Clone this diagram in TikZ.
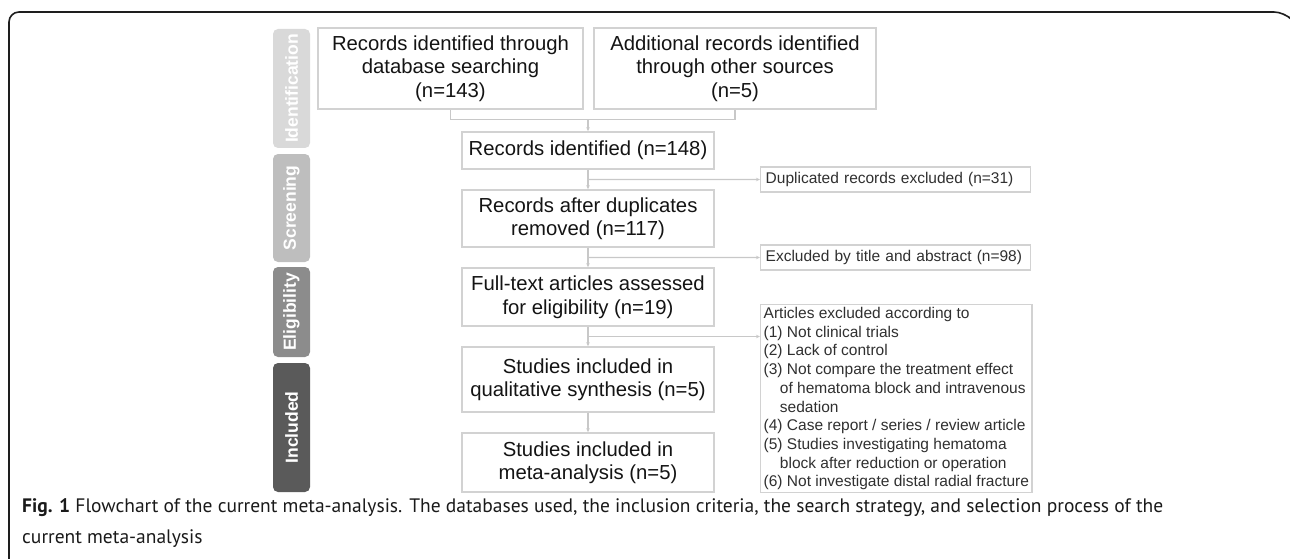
\documentclass[tikz,border=0pt]{standalone}
\usepackage{fontspec}
\setmainfont{Liberation Sans}
\newfontfamily\capfont{PT Sans}
\usetikzlibrary{arrows.meta,calc}
\definecolor{boxline}{HTML}{D2D2D2}
\definecolor{connc}{HTML}{C8C8C8}
\definecolor{tabA}{HTML}{D9D9D9}
\definecolor{tabB}{HTML}{BEBEBE}
\definecolor{tabC}{HTML}{8C8C8C}
\definecolor{tabD}{HTML}{5A5A5A}
\definecolor{framec}{HTML}{1E1E1E}
\definecolor{maintext}{HTML}{141414}
\definecolor{sidetext}{HTML}{303030}
\definecolor{captext}{HTML}{1A1A1A}
\begin{document}
\begin{tikzpicture}[x=1pt,y=-1pt,
  mainbox/.style={draw=boxline,line width=1.4pt,fill=white,inner sep=0pt,align=center,
    text=maintext,font=\fontsize{20.3}{23.5}\selectfont},
  sideframe/.style={draw=boxline,line width=1.4pt,fill=white,inner ysep=0pt,
    text=sidetext,font=\fontsize{15.5}{18.7}\selectfont},
  sidebox/.style={sideframe,inner xsep=5pt,align=left,text width=260pt,
    minimum height=25pt,anchor=west},
  listbox/.style={sideframe,inner xsep=3pt,align=left,minimum width=270pt,
    minimum height=188pt,anchor=north west},
  tabbox/.style={rounded corners=5pt,inner sep=0pt,text=white,minimum height=37pt,
    rotate=90,font=\fontsize{17.5}{20}\selectfont\bfseries},
  connector/.style={draw=connc,line width=1.3pt},
  arr/.style={-{Stealth[length=4pt,width=3.5pt]}}
]
\useasboundingbox (0,0) rectangle (1290,559);
% outer frame
\draw[framec,line width=1.6pt,rounded corners=10pt] (9,562) -- (9,12) -- (1284,12) -- (1289,17);
% phase tabs
\node[tabbox,fill=tabA,minimum width=119pt] (tid) at (291.5,88.5) {Identification};
\node[tabbox,fill=tabB,minimum width=108pt] (tsc) at (291.5,208) {Screening};
\node[tabbox,fill=tabC,minimum width=90pt] (tel) at (291.5,312) {Eligibility};
\node[tabbox,fill=tabD,minimum width=129pt] (tin) at (291.5,427.5) {Included};
% main boxes
\node[mainbox,minimum width=265pt,minimum height=81pt] (b1) at (450.5,68.5)
  {Records identified through\\database searching\\(n=143)};
\node[mainbox,minimum width=282pt,minimum height=81pt] (b2) at (735,68.5)
  {Additional records identified\\through other sources\\(n=5)};
\node[mainbox,minimum width=252pt,minimum height=37pt] (b3) at (588,150.5)
  {Records identified (n=148)};
\node[mainbox,minimum width=252pt,minimum height=57pt] (b4) at (588,218.5)
  {Records after duplicates\\removed (n=117)};
\node[mainbox,minimum width=252pt,minimum height=58pt] (b5) at (588,297)
  {Full-text articles assessed\\for eligibility (n=19)};
\node[mainbox,minimum width=252pt,minimum height=65pt] (b6) at (588,379.5)
  {Studies included in\\qualitative synthesis (n=5)};
\node[mainbox,minimum width=252pt,minimum height=59pt] (b7) at (588,462.5)
  {Studies included in\\meta-analysis (n=5)};
% junction points
\coordinate (m0) at ($(b3.north)+(0,-12)$);
\coordinate (j1) at ($(b3.south)!0.5!(b4.north)$);
\coordinate (j2) at ($(b4.south)!0.5!(b5.north)$);
\coordinate (j3) at ($(b5.south)!0.5!(b6.north)$);
% side boxes
\node[sidebox] (dup) at (760,179.5) {Duplicated records excluded (n=31)};
\node[sidebox] (tit) at (760,257.5) {Excluded by title and abstract (n=98)};
\node[listbox] (art) at (760,304)
  {Articles excluded according to\\
   (1) Not clinical trials\\
   (2) Lack of control\\
   (3) Not compare the treatment effect\\
   \hspace*{1.05em}of hematoma block and intravenous\\
   \hspace*{1.05em}sedation\\
   (4) Case report / series / review article\\
   (5) Studies investigating hematoma\\
   \hspace*{1.05em}block after reduction or operation\\
   (6) Not investigate distal radial fracture};
% connectors
\draw[connector] (b1.south) |- (m0) -| (b2.south);
\draw[connector,arr] (m0) -- (b3.north);
\draw[connector,arr] (b3.south) -- (b4.north);
\draw[connector,arr] (b4.south) -- (b5.north);
\draw[connector,arr] (b5.south) -- (b6.north);
\draw[connector,arr] (b6.south) -- (b7.north);
\draw[connector,arr] (j1) -- (dup.west);
\draw[connector,arr] (j2) -- (tit.west);
\draw[connector,arr] (j3) -- (art.west |- j3);
% caption
\node[anchor=north west,align=left,inner sep=0pt,text=captext,
  font=\capfont\fontsize{19.5}{31}\selectfont] (cap) at (22,498)
  {\textbf{Fig. 1} Flowchart of the current meta-analysis. The databases used, the inclusion criteria, the search strategy, and selection process of the\\current meta-analysis};
\end{tikzpicture}
\end{document}
